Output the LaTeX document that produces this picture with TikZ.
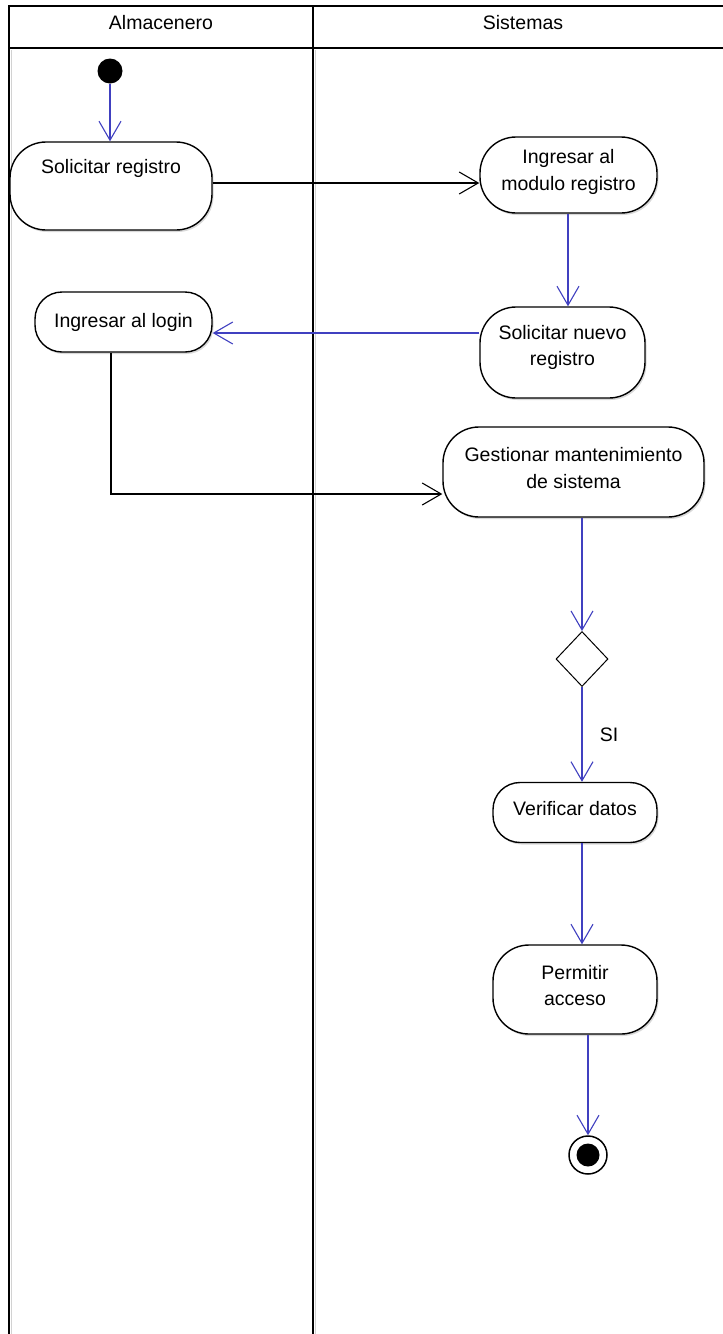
\documentclass[tikz,border=0pt]{standalone}
\usepackage{fontspec}
\setmainfont{Liberation Sans}
\usetikzlibrary{arrows.meta,shapes.geometric,shadows}
\definecolor{flowblue}{RGB}{64,64,192}
\begin{document}
\begin{tikzpicture}[x=1pt,y=-1pt,
  lane/.style={line width=2pt},
  laneshade/.style={gray!35,line width=1.5pt},
  txt/.style={font=\fontsize{19.5}{26.5}\selectfont, align=center},
  act/.style={draw, line width=1.4pt, rounded corners=36pt, fill=white,
    inner sep=0pt,
    drop shadow={shadow xshift=1.5pt,shadow yshift=-2pt,opacity=0.3}},
  slim/.style={rounded corners=27pt},
  say/.style 2 args={label={[txt,yshift=#1]center:{#2}}},
  barb/.tip={Straight Barb[length=19pt,width=22pt]},
  flowb/.style={draw=flowblue, line width=1.1pt, -barb},
  flowk/.style={draw=black, line width=1.1pt, -barb}]
\useasboundingbox (0,0) rectangle (723,1334);

% swimlanes
\draw[laneshade] (11.5,50) -- (11.5,1334);
\draw[laneshade] (315.5,50) -- (315.5,1334);
\draw[lane] (9,1334) -- (9,6) -- (723,6);
\draw[lane] (9,48) -- (723,48);
\draw[lane] (313,6) -- (313,1334);
\node[txt] (h1) at (161,22.5) {Almacenero};
\node[txt] (h2) at (523,22.5) {Sistemas};

% activities
\node[circle, fill=black, minimum size=25pt, inner sep=0pt] (ini) at (110,71) {};
\node[act, minimum width=202pt, minimum height=88pt,
  say={18pt}{Solicitar registro}] (sr) at (111,186) {};
\node[act, minimum width=177pt, minimum height=76pt,
  say={3pt}{Ingresar al\\modulo registro}] (imr) at (568.5,175) {};
\node[act, minimum width=165pt, minimum height=91pt,
  say={5pt}{Solicitar nuevo\\registro}] (snr) at (562.5,352.5) {};
\node[act, slim, minimum width=177pt, minimum height=60pt,
  say={0pt}{Ingresar al login}] (login) at (123.5,322) {};
\node[act, minimum width=261pt, minimum height=90pt,
  say={4pt}{Gestionar mantenimiento\\de sistema}] (gms) at (573.5,472) {};
\node[draw, diamond, minimum width=52pt, minimum height=55pt, inner sep=0pt,
  line width=1pt, fill=white] (dia) at (582,659) {};
\node[act, slim, minimum width=164pt, minimum height=60pt,
  say={4pt}{Verificar datos}] (vd) at (575,812.5) {};
\node[act, minimum width=164pt, minimum height=89pt,
  say={4pt}{Permitir\\acceso}] (pa) at (575,989.5) {};
\node[circle, draw, line width=1.5pt, minimum size=38pt, inner sep=0pt,
  fill=white] (fin) at (588,1155) {};
\node[circle, fill=black, minimum size=23pt, inner sep=0pt] (finc) at (fin) {};

% flows
\draw[flowb] (ini) -- (ini |- sr.north);
\draw[flowk] ([yshift=3pt]sr.east) -- ([yshift=3pt]sr.east -| imr.west);
\draw[flowb] ([xshift=-0.5pt]imr.south) -- ([xshift=-0.5pt]imr.south |- snr.north);
\draw[flowb] ([yshift=19.5pt]snr.west) -- ([yshift=19.5pt]snr.west -| login.east);
\draw[flowk] ([xshift=-12.5pt]login.south) |- ([yshift=-22pt]gms.west);
\draw[flowb] (dia.north |- gms.south) -- (dia.north);
\draw[flowb] (dia.south) -- (dia.south |- vd.north)
  node[txt, midway, right=14pt] (si) {SI};
\draw[flowb] (dia |- vd.south) -- (dia |- pa.north);
\draw[flowb] (fin |- pa.south) -- (fin.north);
\end{tikzpicture}
\end{document}
